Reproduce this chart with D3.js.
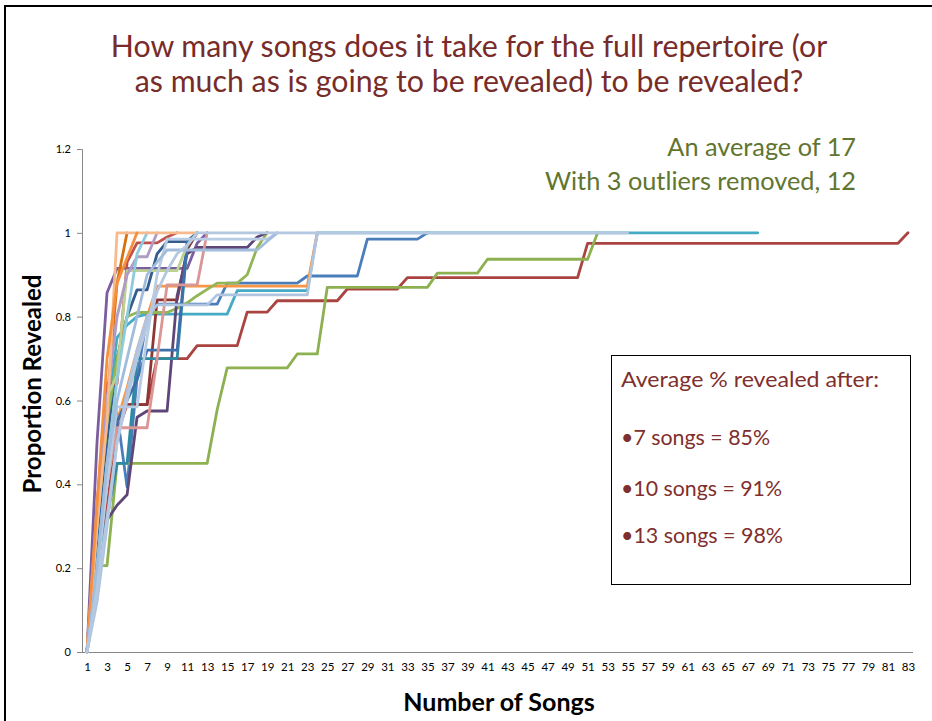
<!DOCTYPE html>
<html>
<head>
<meta charset="utf-8">
<script src="https://cdn.jsdelivr.net/npm/d3@7"></script>
<style>
  html, body { margin: 0; padding: 0; background: #fff; }
  svg { display: block; }
</style>
</head>
<body>
<svg id="chart" width="932" height="721"></svg>
<script>
// Cumulative proportion of each repertoire revealed, song by song
const categories = [1,2,3,4,5,6,7,8,9,10,11,12,13,14,15,16,17,18,19,20,21,22,23,24,25,26,27,28,29,30,31,32,33,34,35,36,37,38,39,40,41,42,43,44,45,46,47,48,49,50,51,52,53,54,55,56,57,58,59,60,61,62,63,64,65,66,67,68,69,70,71,72,73,74,75,76,77,78,79,80,81,82,83];

const yTickValues = [0, 0.2, 0.4, 0.6, 0.8, 1, 1.2];
const yTickLabels = ["0", "0.2", "0.4", "0.6", "0.8", "1", "1.2"];
const xTickLabels = ["1","3","5","7","9","11","13","15","17","19","21","23","25","27","29","31","33","35","37","39","41","43","45","47","49","51","53","55","57","59","61","63","65","67","69","71","73","75","77","79","81","83"];

const seriesBlue = [0,0.22,0.45,0.57,0.394,0.654,0.80,0.83,0.83,0.83,0.83,0.83,0.83,0.83,0.88,0.88,0.88,0.88,0.88,0.88,0.88,0.88,0.897,0.897,0.897,0.897,0.897,0.897,0.985,0.985,0.985,0.985,0.985,0.985,1];
const seriesRed = [0,0.15,0.35,0.52,0.59,0.59,0.59,0.70,0.70,0.70,0.70,0.731,0.731,0.731,0.731,0.731,0.811,0.811,0.811,0.838,0.838,0.838,0.838,0.838,0.838,0.838,0.866,0.866,0.866,0.866,0.866,0.866,0.893,0.893,0.893,0.893,0.893,0.893,0.893,0.893,0.893,0.893,0.893,0.893,0.893,0.893,0.893,0.893,0.893,0.893,0.975,0.975,0.975,0.975,0.975,0.975,0.975,0.975,0.975,0.975,0.975,0.975,0.975,0.975,0.975,0.975,0.975,0.975,0.975,0.975,0.975,0.975,0.975,0.975,0.975,0.975,0.975,0.975,0.975,0.975,0.975,0.975,1];
const seriesGreen = [0,0.206,0.206,0.45,0.45,0.45,0.45,0.45,0.45,0.45,0.45,0.45,0.45,0.578,0.678,0.678,0.678,0.678,0.678,0.678,0.678,0.711,0.711,0.711,0.87,0.87,0.87,0.87,0.87,0.87,0.87,0.87,0.87,0.87,0.87,0.904,0.904,0.904,0.904,0.904,0.937,0.937,0.937,0.937,0.937,0.937,0.937,0.937,0.937,0.937,0.937,1];
const seriesPurple = [0,0.5,0.857,0.915,0.915,0.915,0.915,0.915,0.915,0.915,0.915,0.975,1];
const seriesTeal = [0,0.3,0.55,0.75,0.78,0.80,0.806,0.806,0.806,0.806,0.806,0.806,0.806,0.806,0.806,0.862,0.862,0.862,0.862,0.862,0.862,0.862,0.862,1,1,1,1,1,1,1,1,1,1,1,1,1,1,1,1,1,1,1,1,1,1,1,1,1,1,1,1,1,1,1,1,1,1,1,1,1,1,1,1,1,1,1,1,1];
const seriesOrange = [0,0.2,0.45,0.55,0.63,0.72,0.80,0.873,0.873,0.873,0.873,0.873,0.873,0.873,0.873,0.873,0.873,0.873,0.873,0.873,0.873,0.873,0.873,1];
const seriesDarkBlue = [0,0.25,0.5,0.70,0.80,0.864,0.864,0.95,0.979,0.979,0.979,1];
const seriesDarkRed = [0,0.2,0.42,0.55,0.59,0.59,0.59,0.84,0.84,0.84,0.96,1];
const seriesOlive = [0,0.3,0.55,0.70,0.80,0.81,0.81,0.81,0.81,0.82,0.833,0.85,0.865,0.88,0.88,0.88,0.90,0.965,1];
const seriesDarkPurple = [0,0.22,0.315,0.35,0.375,0.56,0.575,0.575,0.575,0.85,0.95,0.965,0.965,0.965,0.965,0.965,0.965,0.99,1];
const seriesDarkTeal = [0,0.2,0.32,0.45,0.45,0.70,0.70,0.70,0.70,0.70,0.97,1];
const seriesDarkOrange = [0,0.3,0.6,0.88,1];
const seriesSteel = [0,0.25,0.45,0.55,0.60,0.65,0.72,0.72,0.72,0.72,0.98,1];
const seriesBrick = [0,0.35,0.64,0.64,0.93,0.976,0.976,0.976,0.99,1];
const seriesPink = [0,0.2,0.4,0.535,0.535,0.535,0.535,0.70,0.876,0.876,0.876,0.876,1];
const seriesLightGreen = [0,0.3,0.61,0.66,0.91,0.91,0.91,0.91,0.91,0.91,0.97,1];
const seriesLightPurple = [0,0.35,0.6,0.8,0.9,0.943,0.943,1];
const seriesLightTeal = [0,0.2,0.45,0.65,0.8,0.95,1];
const seriesPeach = [0,0.3,0.55,1,1,1,1,1,1,1,1,1];
const seriesAmber = [0,0.35,0.7,0.88,0.94,1];
const seriesMist1 = [0,0.18,0.40,0.585,0.585,0.585,0.75,0.90,0.985,0.985,0.985,0.985,0.985,0.985,0.985,0.985,0.985,0.985,0.985,1];
const seriesMist2 = [0,0.12,0.3,0.5,0.62,0.72,0.80,0.828,0.828,0.828,0.828,0.828,0.828,0.852,0.852,0.852,0.852,0.852,0.852,0.852,0.852,0.852,0.852,1];
const seriesMist3 = [0,0.2,0.45,0.6,0.7,0.8,0.9,0.93,0.959,0.959,0.959,0.959,0.959,0.959,0.959,0.959,0.959,0.959,0.98,1];
const seriesMist4 = [0,0.15,0.32,0.5,0.6,0.7,0.78,0.86,0.91,0.95,0.97,1,1,1,1,1,1,1,1,1,1,1,1,1,1,1,1,1,1,1,1,1,1,1,1,1,1,1,1,1,1,1,1,1,1,1,1,1,1,1,1,1,1,1,1];

// Drawing order (later series sit on top) and line colours
const seriesList = [
  seriesBlue, seriesRed, seriesGreen, seriesPurple, seriesTeal, seriesOrange,
  seriesDarkBlue, seriesDarkRed, seriesOlive, seriesDarkPurple, seriesDarkTeal, seriesDarkOrange,
  seriesSteel, seriesBrick, seriesPink, seriesLightGreen, seriesLightPurple, seriesLightTeal,
  seriesPeach, seriesAmber, seriesMist1, seriesMist2, seriesMist3, seriesMist4
];
const seriesColors = [
  "#4A7EBB", "#AA4441", "#8DB151", "#7A5E9E", "#45AAC4", "#F79646",
  "#345C8C", "#8E3634", "#92B556", "#5E4778", "#2E8AA2", "#D9700F",
  "#3E6FAA", "#C0504D", "#D99694", "#BCD292", "#AE9CC5", "#8FCBDC",
  "#F8BA8C", "#F5903E", "#B8CCE4", "#AFC4E0", "#A2BCDC", "#B4C8E2"
];

const svg = d3.select("#chart");
const font = "Lato, 'Open Sans', sans-serif";

// Slide frame
svg.append("rect")
  .attr("x", 5).attr("y", 6).attr("width", 950).attr("height", 740)
  .attr("fill", "none").attr("stroke", "#000").attr("stroke-width", 2);

// Title
const titleColor = "#772C2A";
const titleLines = [
  "How many songs does it take for the full repertoire (or",
  "as much as is going to be revealed) to be revealed?"
];
svg.append("g").selectAll("text").data(titleLines).join("text")
  .attr("x", 469).attr("y", (d, i) => 57 + i * 35)
  .attr("text-anchor", "middle")
  .attr("font-family", font)
  .attr("font-size", 30.3)
  .attr("fill", titleColor)
  .text(d => d);

// Scales
const plotLeft = 82, plotRight = 913, plotTop = 149, plotBottom = 652;
const x = d3.scalePoint().domain(categories).range([plotLeft, plotRight]).padding(0.5);
const y = d3.scaleLinear().domain([0, 1.2]).range([plotBottom, plotTop]);

// Y axis
const yAxis = d3.axisLeft(y)
  .tickValues(yTickValues)
  .tickFormat((d, i) => yTickLabels[i])
  .tickSizeOuter(0)
  .tickSize(5)
  .tickPadding(6);
const gy = svg.append("g").attr("transform", `translate(${plotLeft},0)`).call(yAxis);
gy.select(".domain").attr("stroke", "#868686").attr("stroke-width", 1);
gy.selectAll(".tick line").attr("stroke", "#868686");
gy.selectAll(".tick text").attr("font-family", font).attr("font-size", 11).attr("fill", "#000");

// X axis (category labels on every other song)
const xAxis = d3.axisBottom(x)
  .tickValues(xTickLabels.map(Number))
  .tickFormat((d, i) => xTickLabels[i])
  .tickSize(0)
  .tickPadding(11);
const gx = svg.append("g").attr("transform", `translate(0,${plotBottom})`).call(xAxis);
gx.select(".domain").attr("stroke", "#868686").attr("stroke-width", 1)
  .attr("d", `M${plotLeft},0.5H${plotRight}`);
gx.selectAll(".tick text").attr("font-family", font).attr("font-size", 11.5).attr("fill", "#000");

// Lines
const line = d3.line()
  .x((d, i) => x(categories[i]))
  .y(d => y(d));
svg.append("g").selectAll("path").data(seriesList).join("path")
  .attr("d", d => line(d))
  .attr("fill", "none")
  .attr("stroke", (d, i) => seriesColors[i])
  .attr("stroke-width", 2.8)
  .attr("stroke-linejoin", "round")
  .attr("stroke-linecap", "round");

// Axis titles
svg.append("text")
  .attr("transform", "translate(41,384) rotate(-90)")
  .attr("text-anchor", "middle")
  .attr("font-family", font)
  .attr("font-weight", "bold")
  .attr("font-size", 24)
  .attr("fill", "#000")
  .text("Proportion Revealed");
svg.append("text")
  .attr("x", 499).attr("y", 711)
  .attr("text-anchor", "middle")
  .attr("font-family", font)
  .attr("font-weight", "bold")
  .attr("font-size", 25)
  .attr("fill", "#000")
  .text("Number of Songs");

// Averages note
const noteLines = ["An average of 17", "With 3 outliers removed, 12"];
svg.append("g").selectAll("text").data(noteLines).join("text")
  .attr("x", 856).attr("y", (d, i) => 156 + i * 34)
  .attr("text-anchor", "end")
  .attr("font-family", font)
  .attr("font-size", 25.3)
  .attr("fill", "#5F7530")
  .text(d => d);

// Summary box
svg.append("rect")
  .attr("x", 611.5).attr("y", 355.5).attr("width", 299).attr("height", 229)
  .attr("fill", "#fff").attr("stroke", "#000").attr("stroke-width", 1);
const boxLines = ["Average % revealed after:", "\u20227 songs = 85%", "\u202210 songs = 91%", "\u202213 songs = 98%"];
const boxY = [387, 445, 496, 543];
const boxWidths = [258, 149, 161, 162];
svg.append("g").selectAll("text").data(boxLines).join("text")
  .attr("x", 621).attr("y", (d, i) => boxY[i])
  .attr("font-family", font)
  .attr("font-size", 21)
  .attr("textLength", (d, i) => boxWidths[i])
  .attr("lengthAdjust", "spacingAndGlyphs")
  .attr("fill", "#7F2F2D")
  .text(d => d);
</script>
</body>
</html>
